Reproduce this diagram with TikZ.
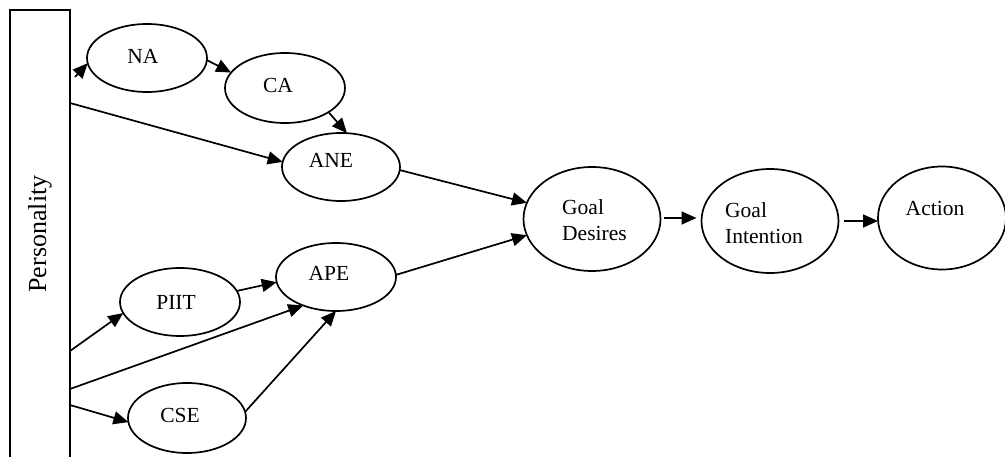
\documentclass[tikz,border=0pt]{standalone}
\usepackage{fontspec}
\setmainfont{Liberation Serif}
\usetikzlibrary{arrows.meta,shapes.geometric}
\begin{document}
\begin{tikzpicture}[x=1pt,y=-1pt,
  ell/.style={draw=black, ellipse, line width=1.7pt, inner sep=0pt, outer sep=0pt},
  lbl/.style={inner sep=0pt, font=\fontsize{21.5}{26}\selectfont},
  arr/.style={line width=1.7pt, -{Triangle[length=15pt,width=13pt]}}]
\useasboundingbox (0,0) rectangle (1005,457);
\clip (0,0) rectangle (1005,457);
% Personality box (open at the bottom)
\node[draw=none, minimum width=60pt, minimum height=470pt, inner sep=0pt, outer sep=0pt, anchor=north west] (P) at (10,10) {};
\draw[line width=1.7pt] (10,470) -- (10,10) -- (70,10) -- (70,470);
\node[rotate=90, inner sep=0pt, font=\fontsize{26}{30}\selectfont] (Ptxt) at (40,234) {Personality};
% ellipses
\node[ell, minimum width=120pt, minimum height=68pt] (NA) at (147,58) {};
\node[lbl] (NAt) at (143,56) {NA};
\node[ell, minimum width=120pt, minimum height=70pt] (CA) at (285,88) {};
\node[lbl] (CAt) at (278,85) {CA};
\node[ell, minimum width=118pt, minimum height=68pt] (ANE) at (341,167) {};
\node[lbl] (ANEt) at (331,160) {ANE};
\node[ell, minimum width=120pt, minimum height=68pt] (APE) at (336,277) {};
\node[lbl] (APEt) at (329,273) {APE};
\node[ell, minimum width=120pt, minimum height=68pt] (PIIT) at (180,302) {};
\node[lbl] (PIITt) at (176,302) {PIIT};
\node[ell, minimum width=118pt, minimum height=70pt] (CSE) at (187,418) {};
\node[lbl] (CSEt) at (180,415) {CSE};
\node[ell, minimum width=137pt, minimum height=104pt] (GD) at (592,219) {};
\node[lbl, align=left, anchor=west] (GDt) at (562,220) {Goal\\Desires};
\node[ell, minimum width=137pt, minimum height=104pt] (GI) at (770,221) {};
\node[lbl, align=left, anchor=west] (GIt) at (725,223) {Goal\\Intention};
\node[ell, minimum width=128pt, minimum height=103pt] (AC) at (942,218) {};
\node[lbl] (ACt) at (935,208) {Action};
% connectors
\coordinate (g1) at ([shift={(3pt,1pt)}]GD.east);
\coordinate (g2) at ([xshift=5pt]GI.east);
\draw[arr] ([shift={(5pt,-67pt)}]P.north east) -- (NA.185);
\draw[arr] (NA.-2) -- (CA.164);
\draw[arr] (CA.-29) -- (ANE.80);
\draw[arr] ([yshift=-93pt]P.north east) -- (ANE.175);
\draw[arr] (ANE.-3) -- (GD.166);
\draw[arr] (APE.2) -- (GD.194);
\draw[arr] (g1) -- ([xshift=-5pt]g1 -| GI.west);
\draw[arr] (g2) -- (g2 -| AC.west);
\draw[arr] ([yshift=-341pt]P.north east) -- (PIIT.191);
\draw[arr] (PIIT.11) -- (APE.185);
\draw[arr] ([yshift=-379pt]P.north east) -- (APE.221);
\draw[arr] ([yshift=-395pt]P.north east) -- (CSE.184);
\draw[arr] (CSE.6) -- (APE.270);
\end{tikzpicture}
\end{document}
